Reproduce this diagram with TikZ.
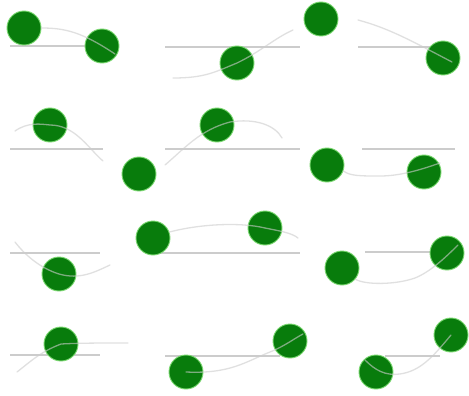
\documentclass[tikz,border=0pt]{standalone}
\definecolor{ballgreen}{RGB}{8,124,12}
\definecolor{ballrim}{RGB}{120,215,110}
\definecolor{wire}{RGB}{204,204,204}
\tikzset{
  ball/.style={circle, fill=ballgreen, draw=ballrim, line width=0.9pt,
    minimum size=34pt, inner sep=0pt},
  rail/.style={draw=wire, line width=1.3pt},
  strand/.style={draw=wire, line width=1.3pt, draw opacity=0.6, line cap=round},
}
\begin{document}
\begin{tikzpicture}[x=1pt, y=-1pt]
\useasboundingbox[fill=white] (0,0) rectangle (469,396);

% rails behind the balls
\coordinate (r1a) at (10,46);   \coordinate (r1b) at (100,46);
\coordinate (r2a) at (165,47);  \coordinate (r2b) at (300,47);
\coordinate (r3a) at (358,47);  \coordinate (r3b) at (435,47);
\coordinate (r4a) at (10,149);  \coordinate (r4b) at (103,149);
\coordinate (r5a) at (165,149); \coordinate (r5b) at (300,149);
\coordinate (r6a) at (362,149); \coordinate (r6b) at (455,149);
\coordinate (r7a) at (10,253);  \coordinate (r7b) at (100,253);
\coordinate (r8a) at (153,253); \coordinate (r8b) at (300,253);
\coordinate (r9a) at (365,252); \coordinate (r9b) at (440,252);
\coordinate (r10a) at (10,355); \coordinate (r10b) at (100,355);
\coordinate (r11a) at (165,356);\coordinate (r11b) at (280,356);
\coordinate (r12a) at (385,356);\coordinate (r12b) at (440,356);
\foreach \i in {1,...,12} \draw[rail] (r\i a) -- (r\i b);

% balls
\node[ball] (a) at (24,28) {};
\node[ball] (b) at (102,46) {};
\node[ball] (c) at (237,63) {};
\node[ball] (d) at (321,19) {};
\node[ball] (e) at (443,58) {};
\node[ball] (f) at (50,125) {};
\node[ball] (g) at (139,174) {};
\node[ball] (h) at (217,125) {};
\node[ball] (i) at (327,165) {};
\node[ball] (j) at (424,172) {};
\node[ball] (k) at (59,274) {};
\node[ball] (l) at (153,238) {};
\node[ball] (m) at (265,228) {};
\node[ball] (n) at (342,268) {};
\node[ball] (o) at (447,253) {};
\node[ball] (p) at (61,344) {};
\node[ball] (q) at (186,372) {};
\node[ball] (r) at (290,341) {};
\node[ball] (s) at (376,372) {};
\node[ball] (t) at (451,335) {};

% strands running over the balls
\draw[strand] (a.east) .. controls (65,28) and (82,32) .. (115,54);
\draw[strand] (173,78) .. controls (205,78) and (215,72) .. (c.center)
  .. controls (260,52) and (275,38) .. (293,30);
\draw[strand] (358,20) .. controls (388,28) and (410,40) .. (452,62);
\draw[strand] (15,131) .. controls (28,122) and (40,124) .. (f.center)
  .. controls (75,125) and (88,148) .. (103,161);
\draw[strand] (165,165) .. controls (185,148) and (200,130) .. (230,122)
  .. controls (255,118) and (275,125) .. (282,138);
\draw[strand] (i.-20) .. controls (350,176) and (360,176) .. (380,176)
  .. controls (400,176) and (420,170) .. (440,163);
\draw[strand] (15,242) .. controls (25,255) and (40,268) .. (k.center)
  .. controls (80,280) and (95,272) .. (110,265);
\draw[strand] (l.20) .. controls (200,224) and (240,222) .. (m.center)
  .. controls (280,231) and (292,233) .. (298,238);
\draw[strand] (n.-40) .. controls (365,285) and (395,285) .. (415,278)
  .. controls (430,272) and (445,258) .. (458,245);
\draw[strand] (17,372) .. controls (30,362) and (40,352) .. (p.center)
  .. controls (80,343) and (100,343) .. (128,343);
\draw[strand] (q.center) .. controls (230,374) and (245,362) .. (270,352)
  .. controls (285,346) and (295,338) .. (303,334);
\draw[strand] (365,360) .. controls (375,370) and (385,376) .. (400,374)
  .. controls (420,371) and (432,358) .. (t.center);
\end{tikzpicture}
\end{document}
